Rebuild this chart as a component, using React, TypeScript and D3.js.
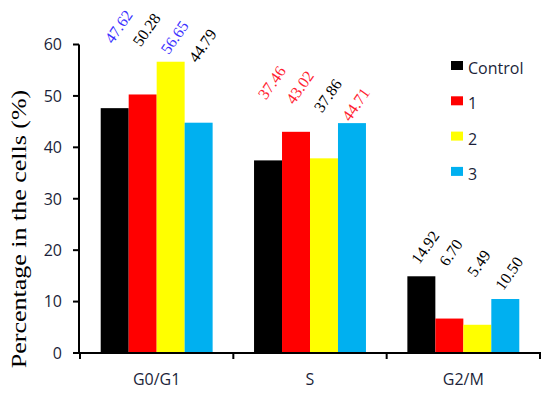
import React from 'react';
import * as d3 from 'd3';

const phases = ['G0/G1', 'S', 'G2/M'];
const groups = ['Control', '1', '2', '3'];
const controlValues = [47.62, 37.46, 14.92];
const group1Values = [50.28, 43.02, 6.7];
const group2Values = [56.65, 37.86, 5.49];
const group3Values = [44.79, 44.71, 10.5];
const yTicks = [0, 10, 20, 30, 40, 50, 60];

// height (in %) where each rotated value label starts
const labelLevels = [
  [60.0, 49.1, 17.1],
  [59.4, 48.2, 16.7],
  [57.9, 46.6, 14.6],
  [56.3, 44.9, 12.0],
];

const barColors = ['#000000', '#FF0000', '#FFFF00', '#00B0F0'];
const BLUE = '#3C32FF';
const RED = '#FF1E32';
const labelColors = [
  [BLUE, RED, '#000'],
  ['#000', RED, '#000'],
  [BLUE, '#000', '#000'],
  ['#000', RED, '#000'],
];

const W = 550;
const H = 395;
const margin = { top: 44.5, right: 10, bottom: 42, left: 80 };

const App: React.FC = () => {
  const series = [controlValues, group1Values, group2Values, group3Values];

  const x0 = d3.scaleBand<string>()
    .domain(phases)
    .range([margin.left, W - margin.right])
    .paddingInner(0)
    .paddingOuter(0);

  const x1 = d3.scaleBand<string>()
    .domain(groups)
    .range([0, x0.bandwidth()])
    .paddingInner(0)
    .paddingOuter(0.74);

  const y = d3.scaleLinear()
    .domain([0, 60])
    .range([H - margin.bottom, margin.top]);

  const axisX = margin.left - 1;
  const baseY = y(0);
  const sans = '"Open Sans", "Noto Sans", sans-serif';
  const serif = '"Liberation Serif", "Times New Roman", serif';
  const textColor = '#1c1f3a';

  const bandEdges = [...phases.map(p => x0(p) as number), (x0(phases[phases.length - 1]) as number) + x0.bandwidth()];

  return (
    <svg width={W} height={H} style={{ position: 'absolute', left: 0, top: 0 }}>
      <rect width={W} height={H} fill="#fff" />

      {/* bars */}
      {groups.map((g, gi) => (
        <g key={g}>
          {phases.map((p, pi) => (
            <rect
              key={p}
              x={(x0(p) as number) + (x1(g) as number)}
              y={y(series[gi][pi])}
              width={x1.bandwidth()}
              height={baseY - y(series[gi][pi])}
              fill={barColors[gi]}
            />
          ))}
        </g>
      ))}

      {/* value labels, rotated */}
      {groups.map((g, gi) =>
        phases.map((p, pi) => {
          const lx = (x0(p) as number) + (x1(g) as number) + x1.bandwidth() / 2 - 2;
          const ly = y(labelLevels[gi][pi]);
          return (
            <g key={g + p} transform={`translate(${lx},${ly}) rotate(-55)`}>
              <text
                x={0}
                y={0}
                fontFamily={serif}
                fontSize={16}
                fill={labelColors[gi][pi]}
              >
                {series[gi][pi].toFixed(2)}
              </text>
            </g>
          );
        })
      )}

      {/* y axis */}
      <line x1={axisX} x2={axisX} y1={y(60)} y2={baseY} stroke="#000" strokeWidth={2} />
      {yTicks.map(t => (
        <g key={t}>
          <line x1={axisX - 6} x2={axisX} y1={y(t)} y2={y(t)} stroke="#000" strokeWidth={2} />
          <text
            x={axisX - 17}
            y={y(t)}
            dy="0.36em"
            textAnchor="end"
            fontFamily={sans}
            fontSize={16}
            fill={textColor}
          >
            {t}
          </text>
        </g>
      ))}

      {/* x axis */}
      <line x1={axisX} x2={bandEdges[bandEdges.length - 1] + 1} y1={baseY} y2={baseY} stroke="#000" strokeWidth={2} />
      {bandEdges.map((e, i) => (
        <line key={i} x1={e} x2={e} y1={baseY} y2={baseY + 6} stroke="#000" strokeWidth={2} />
      ))}
      {phases.map(p => (
        <text
          key={p}
          x={(x0(p) as number) + x0.bandwidth() / 2}
          y={385}
          textAnchor="middle"
          fontFamily={sans}
          fontSize={16}
          fill={textColor}
        >
          {p}
        </text>
      ))}

      {/* y title */}
      <text
        transform="translate(26,229) rotate(-90) scale(1,0.8)"
        textAnchor="middle"
        fontFamily={serif}
        fontSize={26}
        fill="#000"
      >
        Percentage in the cells (%)
      </text>

      {/* legend */}
      {groups.map((g, i) => (
        <g key={g} transform={`translate(451, ${61 + i * 35.3})`}>
          <rect width={12} height={9} fill={barColors[i]} />
          <text x={17} y={13} fontFamily={sans} fontSize={16} fill={textColor}>
            {g}
          </text>
        </g>
      ))}
    </svg>
  );
};

export default App;
